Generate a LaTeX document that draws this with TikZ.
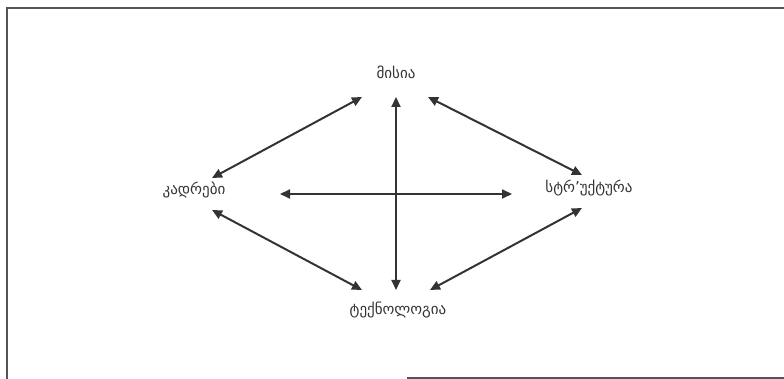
\documentclass[tikz,border=0pt]{standalone}
\usepackage{fontspec}
\setmainfont{DejaVu Sans}
\usetikzlibrary{arrows.meta}
\definecolor{ink}{HTML}{333333}
\definecolor{frame}{HTML}{555555}
\tikzset{
  lbl/.style={font=\fontsize{15}{17}\selectfont, text=ink, inner sep=0pt},
  dbl/.style={draw=ink, line width=2pt, {Triangle[length=10pt,width=9pt]}-{Triangle[length=10pt,width=9pt]}},
  edge/.style={draw=frame, line width=1.3pt}
}
\begin{document}
\begin{tikzpicture}[x=1pt,y=-1pt]
\useasboundingbox (0,0) rectangle (784,379);
% frame
\coordinate (tl) at (7,8);
\coordinate (tr) at (784,8);
\coordinate (bl) at (7,379);
\coordinate (bs) at (407,378);
\coordinate (be) at (784,378);
\draw[edge] (tr) -- (tl) -- (bl);
\draw[edge] (bs) -- (be);
% labels
\node[lbl] (mis) at (396,72) {მისია};
\node[lbl] (kad) at (194,190) {კადრები};
\node[lbl] (str) at (589,188) {სტრ\char"0027უქტურა};
\node[lbl] (tek) at (398,310) {ტექნოლოგია};
% arrow ends
\coordinate (a1) at (362,97);  \coordinate (a2) at (212,178);
\coordinate (b1) at (428,97);  \coordinate (b2) at (582,175);
\coordinate (c1) at (212,210); \coordinate (c2) at (362,290);
\coordinate (d1) at (582,208); \coordinate (d2) at (430,290);
\coordinate (v1) at (396,97);  \coordinate (v2) at (396,290);
\coordinate (h1) at (280,194); \coordinate (h2) at (512,194);
\draw[dbl] (a1) -- (a2);
\draw[dbl] (b1) -- (b2);
\draw[dbl] (c1) -- (c2);
\draw[dbl] (d1) -- (d2);
\draw[dbl] (v1) -- (v2);
\draw[dbl] (h1) -- (h2);
\end{tikzpicture}
\end{document}
